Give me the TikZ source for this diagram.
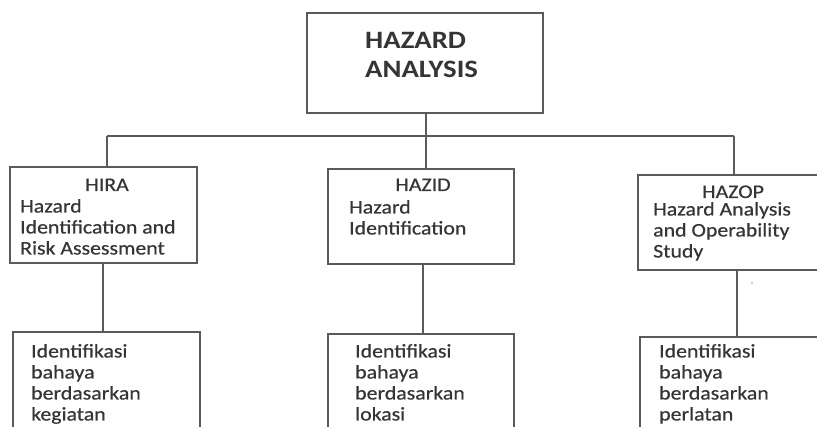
\documentclass[tikz,border=0pt]{standalone}
\usepackage{fontspec}
\setmainfont[FakeStretch=1.13,FakeBold=0.5]{Carlito}
\newfontfamily\ttlfont[FakeStretch=1.15]{Carlito}
\definecolor{txtgray}{HTML}{353535}
\definecolor{linegray}{HTML}{5A5A5A}
\tikzset{
  boxnode/.style={draw=linegray, line width=1.1pt, inner sep=0, fill=none},
  conn/.style={draw=linegray, line width=1.1pt},
  ln/.style={anchor=base west, inner sep=0, text=txtgray, font=\fontsize{19.3}{21}\selectfont},
  lnc/.style={anchor=base, inner sep=0, text=txtgray, font=\fontsize{19.3}{21}\selectfont},
  ttl/.style={anchor=base west, inner sep=0, text=txtgray, font=\ttlfont\fontsize{25}{28}\selectfont\bfseries},
}
\begin{document}
\begin{tikzpicture}[x=1pt,y=-1pt]
\useasboundingbox (0,0) rectangle (817,427);
\clip (0,0) rectangle (817,427);
\fill[white] (0,0) rectangle (817,427);
% boxes
\node[boxnode, minimum width=236pt, minimum height=100pt] (top) at (425,63) {};
\node[boxnode, minimum width=187pt, minimum height=96pt] (hira) at (103.5,215) {};
\node[boxnode, minimum width=186pt, minimum height=95pt] (hazid) at (421,216.5) {};
\node[boxnode, minimum width=196pt, minimum height=95pt] (hazop) at (736,222.5) {};
\node[boxnode, minimum width=187pt, minimum height=108pt] (hira2) at (106.5,386) {};
\node[boxnode, minimum width=186pt, minimum height=106pt] (hazid2) at (421,387) {};
\node[boxnode, minimum width=194pt, minimum height=103pt] (hazop2) at (737,388.5) {};
% connectors
\coordinate (bus) at (426,136);
\coordinate (busL) at (107,136);
\coordinate (busR) at (734,136);
\draw[conn] (top.south -| bus) -- (bus);
\draw[conn] (busL) -- (busR);
\draw[conn] (busL) -- (busL |- hira.north);
\draw[conn] (bus) -- (bus |- hazid.north);
\draw[conn] (busR) -- (busR |- hazop.north);
\draw[conn] ([xshift=-0.5pt]hira.south) -- ([xshift=-0.5pt]hira.south |- hira2.north);
\draw[conn] ([xshift=2pt]hazid.south) -- ([xshift=2pt]hazid.south |- hazid2.north);
\draw[conn] ([xshift=1pt]hazop.south) -- ([xshift=1pt]hazop.south |- hazop2.north);
% stray dot
\fill[txtgray!50] (752,283) circle (0.8);
% title
\node[ttl] (t1) at (365,48.5) {HAZARD};
\node[ttl] (t2) at (365,77.5) {ANALYSIS};
% HIRA
\node[lnc] (a0) at (107,191) {HIRA};
\node[ln] (a1) at (20,212.5) {Hazard};
\node[ln] (a2) at (20,233.5) {Identification and};
\node[ln] (a3) at (20,254.5) {Risk Assessment};
% HAZID
\node[lnc] (b0) at (423,191) {HAZID};
\node[ln] (b1) at (349,213.5) {Hazard};
\node[ln] (b2) at (349,234.5) {Identification};
% HAZOP
\node[lnc] (c0) at (733,198) {HAZOP};
\node[ln] (c1) at (653,215.5) {Hazard Analysis};
\node[ln] (c2) at (653,236.5) {and Operability};
\node[ln] (c3) at (653,257.5) {Study};
% bottom
\node[ln] (d1) at (31,357.5) {Identifikasi};
\node[ln] (d2) at (31,378.5) {bahaya};
\node[ln] (d3) at (31,399.5) {berdasarkan};
\node[ln] (d4) at (31,420.5) {kegiatan};
\node[ln] (e1) at (355,357.5) {Identifikasi};
\node[ln] (e2) at (355,378.5) {bahaya};
\node[ln] (e3) at (355,399.5) {berdasarkan};
\node[ln] (e4) at (355,420.5) {lokasi};
\node[ln] (f1) at (659,357.5) {Identifikasi};
\node[ln] (f2) at (659,378.5) {bahaya};
\node[ln] (f3) at (659,399.5) {berdasarkan};
\node[ln] (f4) at (659,420.5) {perlatan};
\end{tikzpicture}
\end{document}
